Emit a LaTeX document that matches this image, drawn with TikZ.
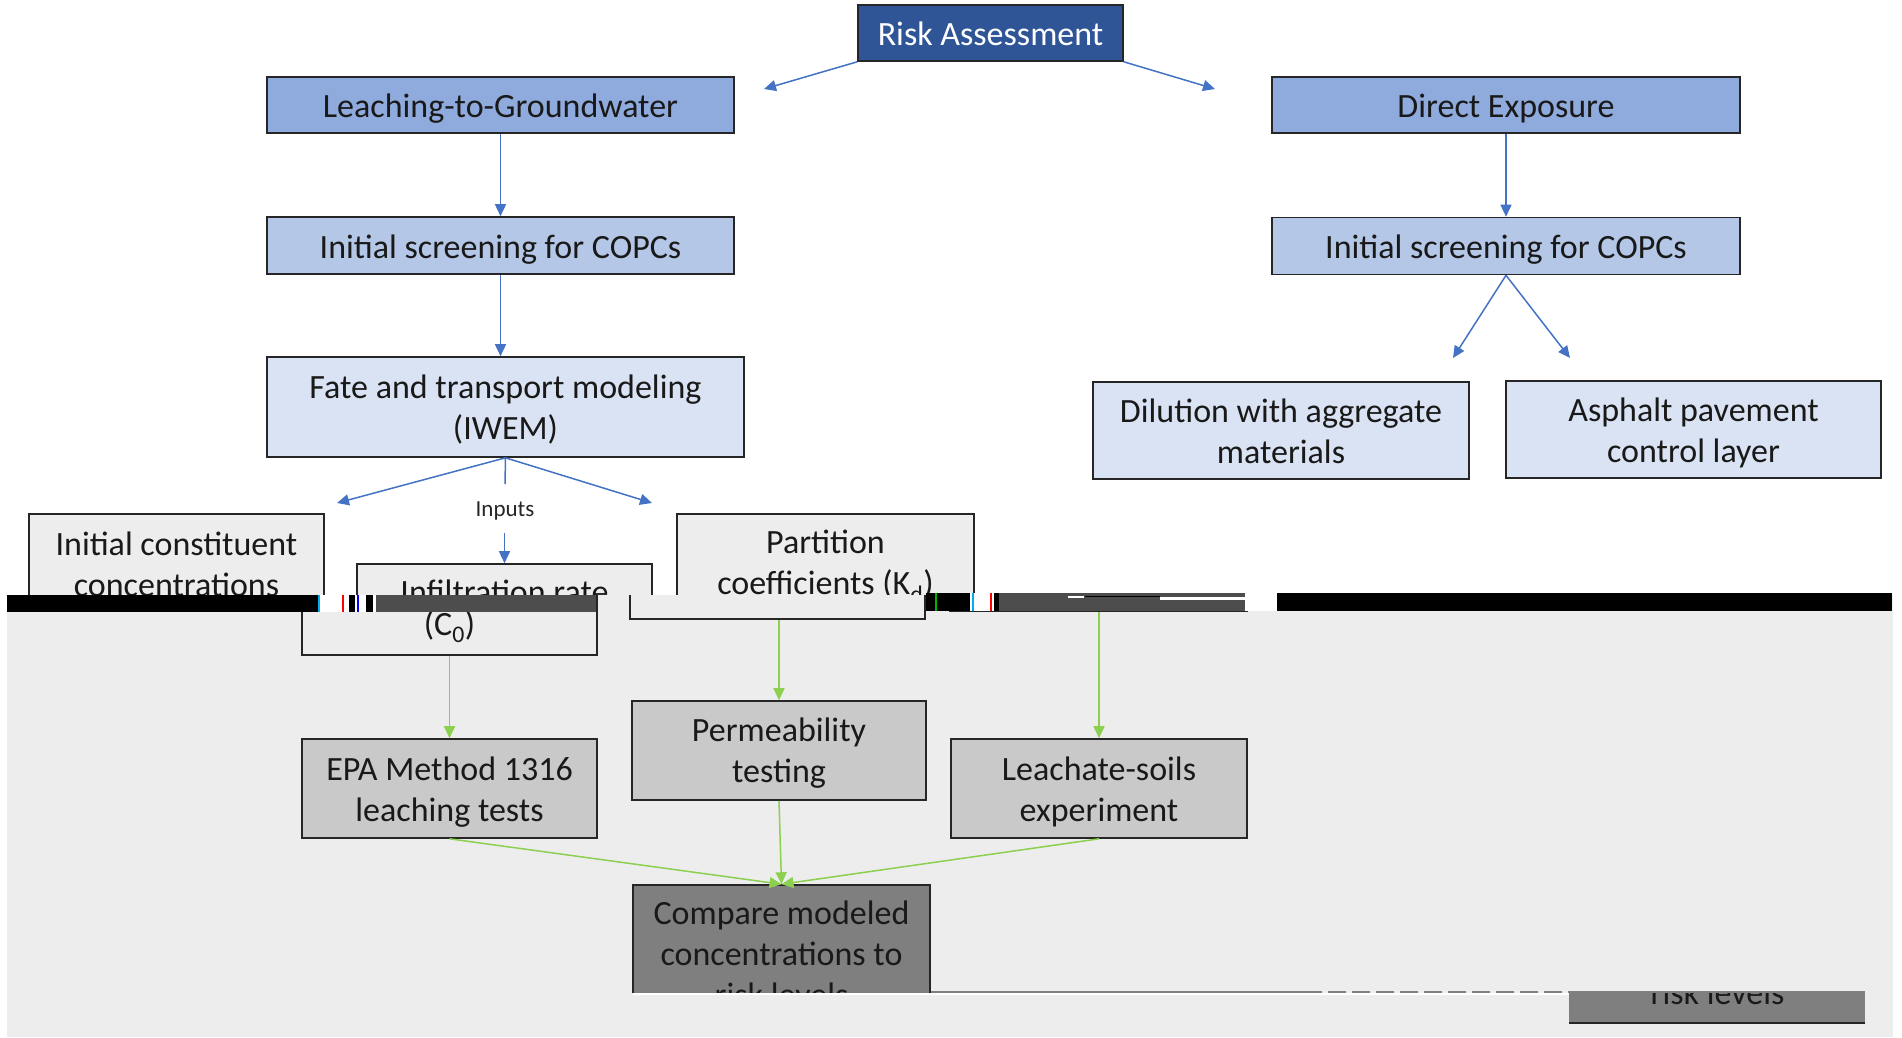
\documentclass[tikz,border=0pt]{standalone}
\usepackage{fontspec}
\setmainfont{Carlito}
\usetikzlibrary{arrows.meta}
\definecolor{dkblue}{HTML}{2F5597}
\definecolor{midblue}{HTML}{8FAADC}
\definecolor{ltblue}{HTML}{B4C7E7}
\definecolor{paleblue}{HTML}{DAE3F3}
\definecolor{arrblue}{HTML}{4472C4}
\definecolor{bggrey}{HTML}{EDEDED}
\definecolor{boxgrey}{HTML}{C9C9C9}
\definecolor{dkgrey}{HTML}{7F7F7F}
\definecolor{bargrey}{HTML}{4D4D4D}
\definecolor{arrgreen}{HTML}{8CD050}
\definecolor{edgecol}{HTML}{262626}
\newcommand{\mainfs}{\fontsize{34}{41}\selectfont}
\newcommand{\smallfs}{\fontsize{23}{28}\selectfont}
% #1 style, #2 name, #3 position, #4 width, #5 height, #6 text shift, #7 text
\newcommand{\mkbox}[7]{%
  \node[box,#1,minimum width=#4,minimum height=#5] (#2) at #3 {};
  \node[boxtext,#1] (#2t) at ([yshift=-#6]#2.center) {#7};}
\begin{document}
\begin{tikzpicture}[x=1pt,y=-1pt,
  box/.style={draw=edgecol,line width=1.6pt,inner sep=0pt},
  boxtext/.style={draw=none,fill=none,inner sep=0pt,align=center,font=\mainfs,text=black!90},
  barr/.style={draw=arrblue,line width=1.5pt,-{Triangle[length=12pt,width=11pt]}},
  garr/.style={draw=arrgreen,line width=1.5pt,-{Triangle[length=12pt,width=11pt]}},
  plainblue/.style={draw=arrblue,line width=1.5pt}
  ]
\fill[white] (0,0) rectangle (1902,1037);
\useasboundingbox (0,0) rectangle (1902,1037);

% ---------- upper part (clipped at the glitch line) ----------
\begin{scope}
\clip (0,0) rectangle (1902,595);
\node[box,fill=dkblue,minimum width=265pt,minimum height=56pt] (risk) at (990.5,33) {};
\node[boxtext,text=white] (riskt) at ([yshift=-1pt]risk.center) {Risk Assessment};
\mkbox{fill=midblue}{ltg}{(500.5,105)}{467pt}{56pt}{4pt}{Leaching-to-Groundwater}
\mkbox{fill=ltblue}{isl}{(500.5,245.5)}{467pt}{57pt}{4pt}{Initial screening for COPCs}
\mkbox{fill=midblue}{de}{(1506,105)}{468pt}{56pt}{4pt}{Direct Exposure}
\mkbox{fill=ltblue}{isr}{(1506,246)}{468pt}{57pt}{4pt}{Initial screening for COPCs}
\mkbox{fill=paleblue}{fate}{(505.5,407)}{477pt}{100pt}{3pt}{Fate and transport modeling\\(IWEM)}
\mkbox{fill=paleblue}{dil}{(1281,430.5)}{376pt}{97pt}{1pt}{Dilution with aggregate\\materials}
\mkbox{fill=paleblue}{asp}{(1693.5,429.5)}{375pt}{97pt}{3pt}{Asphalt pavement\\control layer}
\mkbox{fill=bggrey}{icc}{(176.5,584.5)}{295pt}{141pt}{4pt}{Initial constituent\\concentrations\\(C\textsubscript{0})}
\mkbox{fill=bggrey}{infil}{(504.5,591.5)}{295pt}{55pt}{0pt}{Infiltration rate}
\mkbox{fill=bggrey}{part}{(825.5,562.5)}{297pt}{97pt}{4pt}{Partition\\coefficients (K\textsubscript{d})}

\coordinate (rl) at (764,89);
\coordinate (rr) at (1215,89);
\draw[barr] (risk.south west) -- (rl);
\draw[barr] (risk.south east) -- (rr);
\draw[barr] (ltg.south) -- (isl.north);
\draw[barr] (de.south) -- (isr.north);
\draw[barr] (isl.south) -- (isl.south |- fate.north);
\coordinate (fl) at (337,503);
\coordinate (fr) at (652,503);
\draw[barr] (fate.south) -- (fl);
\draw[barr] (fate.south) -- (fr);
\coordinate (fv) at (505,484);
\draw[plainblue] (fate.south) -- (fv);
\node[font=\smallfs,inner sep=0pt,text=black!85] (inp) at (505,511) {Inputs};
\coordinate (ia) at (504.5,533);
\draw[barr] (ia) -- (infil.north);
\coordinate (sl) at (1453,358);
\coordinate (sr) at (1570,358);
\draw[barr] (isr.south) -- (sl);
\draw[barr] (isr.south) -- (sr);
\end{scope}

% ---------- grey lower panel ----------
\fill[bggrey] (7,595) rectangle (1893,1037);

% shifted copies of the upper boxes (only their lower parts show)
\begin{scope}
\clip (0,595) rectangle (1902,1037);
\node[box,fill=bggrey,minimum width=295pt,minimum height=141pt] (icc2) at (449.5,584.5) {};
\node[boxtext] (icc2t) at (449.5,626.5) {(C\textsubscript{0})};
\node[box,fill=bggrey,minimum width=295pt,minimum height=55pt] (infil2) at (777.5,591.5) {};
\node[box,fill=bggrey,minimum width=297pt,minimum height=97pt] (part2) at (1098.5,562.5) {};
\end{scope}

% glitch bars
\fill[black] (7,595) rectangle (318,612);
\fill[white] (318,595) rectangle (376,612);
\fill[cyan] (318,595) rectangle (320,612);
\fill[red] (342,595) rectangle (344,612);
\fill[black] (349,595) rectangle (355,612);
\fill[blue] (357,595) rectangle (359,612);
\fill[black] (366,595) rectangle (373,612);
\fill[bargrey] (376,595) rectangle (596,612);
\fill[black] (926,593) rectangle (970,611);
\fill[green!70!black] (935,593) rectangle (937,611);
\fill[white] (970,593) rectangle (999,611);
\fill[cyan] (972,593) rectangle (974,611);
\fill[red] (990,593) rectangle (992,611);
\fill[black] (994,593) rectangle (999,611);
\fill[bargrey] (999,593) rectangle (1245,611);
\fill[white] (1068,596) rectangle (1084,598);
\fill[white] (1160,597) rectangle (1245,600);
\fill[black] (1085,596) rectangle (1160,597);
\fill[white] (1245,593) rectangle (1277,611);
\fill[black] (1277,593) rectangle (1892,611);

% ---------- lower boxes ----------
\mkbox{fill=boxgrey}{epa}{(449.5,788.5)}{295pt}{99pt}{4pt}{EPA Method 1316\\leaching tests}
\mkbox{fill=boxgrey}{perm}{(779,750.5)}{294pt}{99pt}{3pt}{Permeability\\testing}
\mkbox{fill=boxgrey}{leach}{(1099,788.5)}{296pt}{99pt}{3pt}{Leachate-soils\\experiment}

\draw[garr] (icc2.south) -- (epa.north);
\draw[garr] (perm.north |- infil2.south) -- (perm.north);
\draw[garr] (leach.north |- part2.south) -- (leach.north);

\begin{scope}
\clip (0,595) rectangle (1902,992);
\mkbox{fill=dkgrey}{cmp}{(781.5,954.5)}{297pt}{139pt}{-1pt}{Compare modeled\\concentrations to\\risk levels}
\end{scope}
\draw[garr] (epa.south) -- (cmp.north);
\draw[garr] (perm.south) -- (cmp.north);
\draw[garr] (leach.south) -- (cmp.north);

% shifted copy of the bottom of the compare box
\fill[dkgrey] (1569,991) rectangle (1865,1023);
\coordinate (cbl) at (1569,1023);
\coordinate (cbr) at (1865,1023);
\draw[edgecol,line width=1.6pt] (cbl) -- (cbr);
\begin{scope}
\clip (1569,993) rectangle (1865,1022);
\node[boxtext,anchor=base] (cmp2t) at (1717.5,1004) {risk levels};
\end{scope}
\coordinate (gl) at (1304,992);
\coordinate (ge) at (1569,992);
\draw[white,line width=2pt] (633,993.5) -- (1569,993.5);
\draw[gray,line width=1.2pt] (cmp.east |- gl) -- (gl);
\draw[gray,line width=1.2pt,dash pattern=on 18pt off 6pt] (gl) -- (ge);
\end{tikzpicture}
\end{document}
